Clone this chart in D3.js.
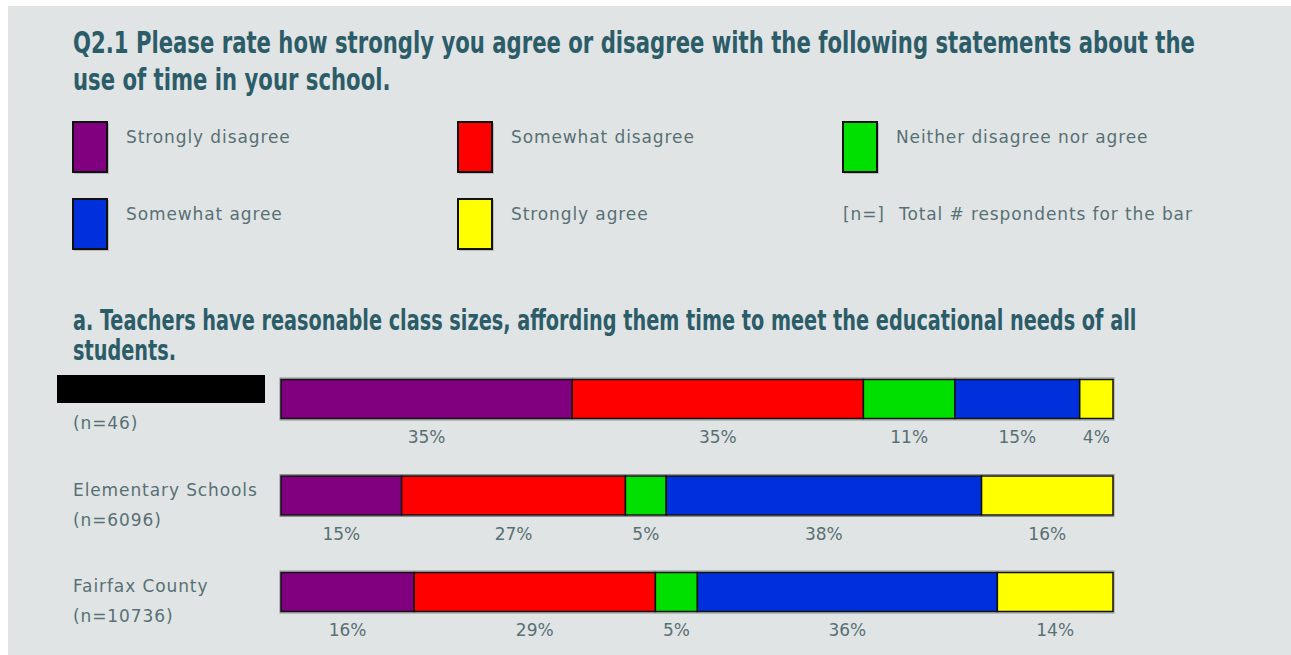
<!DOCTYPE html>
<html>
<head>
<meta charset="utf-8">
<script src="https://cdn.jsdelivr.net/npm/d3@7"></script>
<style>
  html, body { margin: 0; padding: 0; background: #ffffff; }
  svg { display: block; }
</style>
</head>
<body>
<svg id="chart" width="1291" height="655"></svg>
<script>
// ---------- data ----------
const titleLines = [
  "Q2.1 Please rate how strongly you agree or disagree with the following statements about the",
  "use of time in your school."
];
const questionLines = [
  "a. Teachers have reasonable class sizes, affording them time to meet the educational needs of all",
  "students."
];
const responses = ["Strongly disagree", "Somewhat disagree", "Neither disagree nor agree", "Somewhat agree", "Strongly agree"];
const responseColors = ["#800080", "#ff0000", "#00e000", "#0030dc", "#ffff00"];
const nLegendKey = "[n=]";
const nLegendText = "Total # respondents for the bar";

const groups = ["", "Elementary Schools", "Fairfax County"];   // first label is redacted
const groupN = [46, 6096, 10736];

const stronglyDisagree = [35, 14.5, 16];
const somewhatDisagree = [35, 26.9, 29];
const neither = [11, 4.9, 5.05];
const somewhatAgree = [15, 37.9, 36.05];
const stronglyAgree = [4, 15.8, 13.9];
const seriesValues = [stronglyDisagree, somewhatDisagree, neither, somewhatAgree, stronglyAgree];

// ---------- drawing ----------
const svg = d3.select("#chart");
const headFont = "'DejaVu Sans Condensed', 'DejaVu Sans', sans-serif";
const bodyFont = "'DejaVu Sans', Verdana, sans-serif";
const headColor = "#2c5c68";
const textColor = "#587074";
const bodySize = 17;
const bodySpacing = 0.9;

// panel background
svg.append("rect").attr("x", 8).attr("y", 6).attr("width", 1283).attr("height", 649).attr("fill", "#e0e4e5");

// heading block in a tall, condensed style: horizontal squeeze so line 1 spans the target width
function heading(lines, cls, y0, lineGap, size, targetWidth) {
  const g = svg.append("g").attr("class", cls);
  const sel = g.selectAll("text").data(lines).join("text")
    .attr("x", 0).attr("y", (d, i) => i * lineGap)
    .attr("font-family", headFont).attr("font-weight", "bold").attr("font-size", size)
    .attr("fill", headColor)
    .text(d => d);
  const w = sel.nodes()[0].getComputedTextLength();
  const sx = Math.min(1, targetWidth / w);
  g.attr("transform", `translate(73,${y0}) scale(${sx},1)`);
}
heading(titleLines, "title", 53, 37, 30, 1122);
heading(questionLines, "q", 330, 30, 28, 1064);

// legend
const legendX = d3.scalePoint().domain([0, 1, 2]).range([73, 843]);
const legendItems = responses.map((r, i) => ({ label: r, color: responseColors[i], col: i % 3, row: Math.floor(i / 3) }));
const lg = svg.append("g");
const li = lg.selectAll("g").data(legendItems).join("g")
  .attr("transform", d => `translate(${legendX(d.col)},${122 + d.row * 77})`);
li.append("rect").attr("x", 1).attr("y", 1).attr("width", 35).attr("height", 51)
  .attr("fill", "#b8bcbd");
li.append("rect").attr("x", 0).attr("y", 0).attr("width", 34).attr("height", 50)
  .attr("fill", d => d.color).attr("stroke", "#111").attr("stroke-width", 2);
li.append("text").attr("x", 53).attr("y", 21)
  .attr("font-family", bodyFont).attr("font-size", bodySize).attr("letter-spacing", bodySpacing).attr("fill", textColor)
  .text(d => d.label);
// n= legend
const nk = lg.append("g").attr("transform", `translate(${legendX(2)},${122 + 77})`);
nk.append("text").attr("x", 0).attr("y", 21)
  .attr("font-family", bodyFont).attr("font-size", bodySize).attr("letter-spacing", bodySpacing).attr("fill", textColor).text(nLegendKey);
nk.append("text").attr("x", 56).attr("y", 21)
  .attr("font-family", bodyFont).attr("font-size", bodySize).attr("letter-spacing", bodySpacing).attr("fill", textColor).text(nLegendText);

// bars
const x = d3.scaleLinear().domain([0, 100]).range([281, 1113]);
const y = d3.scalePoint().domain(groups.map((g, i) => i)).range([379, 572]);
const barH = 40;

const rows = groups.map((g, gi) => {
  let cum = 0;
  const segs = seriesValues.map((vals, si) => {
    const s = { start: cum, end: cum + vals[gi], value: vals[gi], color: responseColors[si] };
    cum += vals[gi];
    return s;
  });
  return { label: g, n: groupN[gi], index: gi, segs };
});

const rowG = svg.selectAll("g.row").data(rows).join("g").attr("class", "row")
  .attr("transform", d => `translate(0,${y(d.index)})`);

// outer gray border
rowG.append("rect")
  .attr("x", x(0) - 1).attr("y", -1).attr("width", x(100) - x(0) + 2).attr("height", barH + 2)
  .attr("fill", "none").attr("stroke", "#8c9090").attr("stroke-width", 1);

rowG.selectAll("rect.seg").data(d => d.segs).join("rect").attr("class", "seg")
  .attr("x", d => x(d.start)).attr("y", 0.5)
  .attr("width", d => x(d.end) - x(d.start)).attr("height", barH - 1)
  .attr("fill", d => d.color).attr("stroke", "#111").attr("stroke-width", 1.5);

rowG.selectAll("text.pct").data(d => d.segs).join("text").attr("class", "pct")
  .attr("x", d => (x(d.start) + x(d.end)) / 2).attr("y", barH + 24)
  .attr("text-anchor", "middle")
  .attr("font-family", bodyFont).attr("font-size", bodySize).attr("fill", textColor)
  .text(d => Math.round(d.value) + "%");

// row labels
rowG.append("text").attr("x", 73).attr("y", 20)
  .attr("font-family", bodyFont).attr("font-size", bodySize).attr("letter-spacing", bodySpacing).attr("fill", textColor)
  .text(d => d.label);
rowG.append("text").attr("x", 73).attr("y", 50)
  .attr("font-family", bodyFont).attr("font-size", bodySize).attr("letter-spacing", bodySpacing).attr("fill", textColor)
  .text(d => `(n=${d.n})`);

// redaction box over first label
svg.append("rect").attr("x", 57).attr("y", y(0) - 4).attr("width", 208).attr("height", 28).attr("fill", "#000");
</script>
</body>
</html>
